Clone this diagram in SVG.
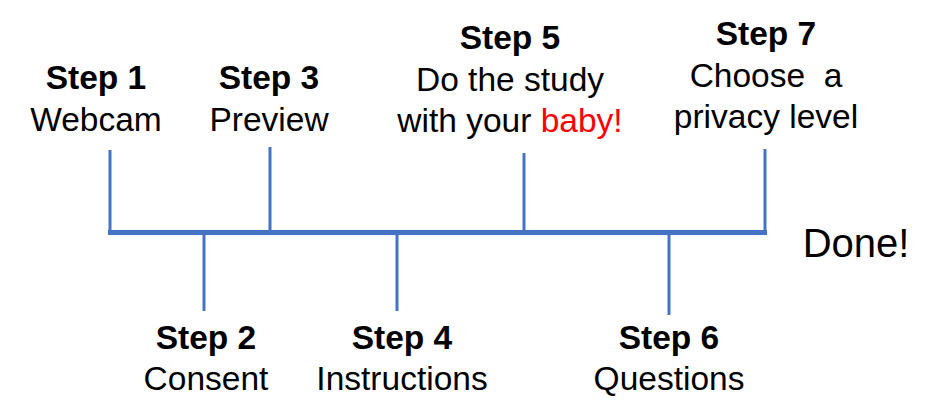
<svg xmlns="http://www.w3.org/2000/svg" width="936" height="420" viewBox="0 0 936 420">
<style>
.t{font-family:"Liberation Sans",Arial,sans-serif;font-size:33.5px;fill:#000;text-anchor:middle}
.b{font-weight:bold}
.ln{stroke:#4472C4;fill:none}
.v{stroke-width:3}
.m{stroke-width:5}
</style>
<rect width="936" height="420" fill="#fff"/>
<g id="connectors">
<line class="ln m" x1="108" y1="232.5" x2="767" y2="232.5"/>
<line class="ln v" x1="110" y1="150" x2="110" y2="232"/>
<line class="ln v" x1="270" y1="147" x2="270" y2="232"/>
<line class="ln v" x1="524" y1="153" x2="524" y2="232"/>
<line class="ln v" x1="765" y1="149" x2="765" y2="232"/>
<line class="ln v" x1="204" y1="233" x2="204" y2="311"/>
<line class="ln v" x1="397" y1="233" x2="397" y2="311"/>
<line class="ln v" x1="669" y1="233" x2="669" y2="315"/>
</g>
<g id="step1"><text class="t b" x="96" y="89">Step 1</text><text class="t" x="96" y="131">Webcam</text></g>
<g id="step3"><text class="t b" x="269" y="89">Step 3</text><text class="t" x="269" y="131">Preview</text></g>
<g id="step5"><text class="t b" x="510" y="49">Step 5</text><text class="t" x="510" y="91">Do the study</text><text class="t" x="510" y="132">with your <tspan fill="#FF0000">baby!</tspan></text></g>
<g id="step7"><text class="t b" x="766" y="45">Step 7</text><text class="t" x="766" y="87" xml:space="preserve">Choose  a</text><text class="t" x="766" y="128">privacy level</text></g>
<g id="step2"><text class="t b" x="206" y="349">Step 2</text><text class="t" x="206" y="390">Consent</text></g>
<g id="step4"><text class="t b" x="402" y="349">Step 4</text><text class="t" x="402" y="390">Instructions</text></g>
<g id="step6"><text class="t b" x="669" y="349">Step 6</text><text class="t" x="669" y="390">Questions</text></g>
<g id="done"><text class="t" x="856" y="257" style="font-size:40px">Done!</text></g>
</svg>
